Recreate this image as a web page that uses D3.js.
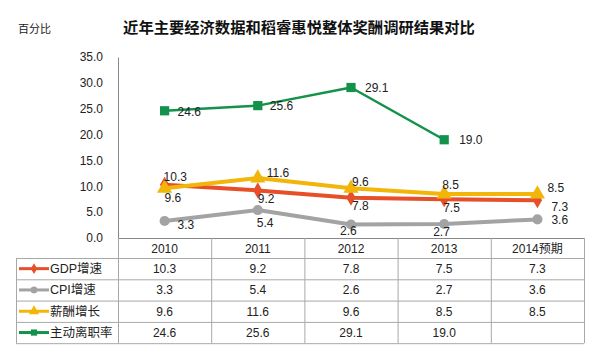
<!DOCTYPE html>
<html><head><meta charset="utf-8">
<script src="https://cdn.jsdelivr.net/npm/d3@7"></script>
<style>
html,body{margin:0;padding:0;background:#fff;}
svg{display:block;font-family:"Liberation Sans",Arial,"Noto Sans CJK SC",sans-serif;}
</style></head><body>
<svg id="c" width="600" height="353"></svg>
<script>
const title = "近年主要经济数据和稻睿惠悦整体奖酬调研结果对比";
const yUnit = "百分比";
const categories = ["2010","2011","2012","2013","2014预期"];
const yTicks = [0,5,10,15,20,25,30,35];
const seriesNames = ["GDP增速","CPI增速","薪酬增长","主动离职率"];
const gdp = [10.3, 9.2, 7.8, 7.5, 7.3];
const cpi = [3.3, 5.4, 2.6, 2.7, 3.6];
const salary = [9.6, 11.6, 9.6, 8.5, 8.5];
const turnover = [24.6, 25.6, 29.1, 19.0, null];

// styling (not data)
const colors = ["#e64f28","#a3a3a3","#f2b50a","#12924a"];
const widths = [4,4,4,2.5];
const shapes = [d3.symbolDiamond, d3.symbolCircle, d3.symbolTriangle, d3.symbolSquare];
const symSizes = [75, 80, 100, 85];
// label placement per series per point: [dx, dy] (offset of label start / vertical centre)
const labelPos = [
  [[-1,-8],[0,8],[1,8],[-1,8],[14,6]],
  [[13,4],[-1,13],[-11,6.5],[-11,8],[14,0]],
  [[0,9],[9,-5],[1,-7],[-2,-9],[10,-6]],
  [[13,1],[12,0],[14,0],[15,0],[0,0]]
];

const allSeries = [gdp, cpi, salary, turnover];
const svg = d3.select("#c");
const pL = 118, pR = 584, pT = 57, pB = 238;
const x = d3.scaleBand().domain(categories).range([pL, pR]);
const y = d3.scaleLinear().domain([0,35]).range([pB, pT]);
const cx = c => x(c) + x.bandwidth()/2;

// title
svg.append("text").attr("x", 299).attr("y", 33).attr("text-anchor","middle")
  .attr("font-family","'Noto Sans CJK SC',sans-serif").attr("font-weight","bold")
  .attr("font-size",15.3).attr("fill","#111").text(title);
svg.append("text").attr("x", 18).attr("y", 33)
  .attr("font-family","'Noto Sans CJK SC',sans-serif")
  .attr("font-size",11).attr("fill","#222").text(yUnit);

// y axis
const yAxis = d3.axisLeft(y).tickValues(yTicks).tickFormat(d3.format(".1f")).tickSize(0).tickPadding(15);
const ga = svg.append("g").attr("transform",`translate(${pL},0)`).call(yAxis);
ga.select(".domain").attr("stroke","#888").attr("stroke-width",1);
ga.selectAll("text").attr("font-size",12).attr("fill","#222")
  .attr("font-family","'Liberation Sans',Arial,sans-serif");

// table grid
const tbl = svg.append("g").attr("stroke","#a8a8a8").attr("stroke-width",1).attr("fill","none");
const rowH = 21.3, headerBottom = 258, tableLeft = 16;
const rowYs = d3.range(5).map(i => headerBottom + i*rowH);
tbl.append("line").attr("x1",pL).attr("x2",pR).attr("y1",pB+0.5).attr("y2",pB+0.5).attr("stroke","#888");
rowYs.forEach(ry => tbl.append("line").attr("x1",tableLeft).attr("x2",pR).attr("y1",ry+0.5).attr("y2",ry+0.5));
tbl.append("line").attr("x1",tableLeft+0.5).attr("x2",tableLeft+0.5).attr("y1",headerBottom).attr("y2",rowYs[4]);
categories.forEach(c => {
  tbl.append("line").attr("x1",x(c)+0.5).attr("x2",x(c)+0.5).attr("y1",pB).attr("y2",rowYs[4]);
});
tbl.append("line").attr("x1",pR+0.5).attr("x2",pR+0.5).attr("y1",pB).attr("y2",rowYs[4]);

// header text
svg.append("g").selectAll("text").data(categories).join("text")
  .attr("x", d => cx(d)).attr("y", pB + 14.5).attr("text-anchor","middle")
  .attr("font-size",12).attr("fill","#222").text(d => d);

// table rows
allSeries.forEach((vals, si) => {
  const ry = rowYs[si] + rowH/2;
  const g = svg.append("g");
  g.append("line").attr("x1",19).attr("x2",49).attr("y1",ry).attr("y2",ry)
    .attr("stroke",colors[si]).attr("stroke-width",3);
  g.append("path").attr("d", d3.symbol().type(shapes[si]).size(symSizes[si]*0.45)())
    .attr("transform",`translate(34,${ry})`).attr("fill",colors[si]);
  g.append("text").attr("x",50).attr("y",ry+4.5).attr("font-size",12.5).attr("fill","#222")
    .attr("font-family","'Liberation Sans','Noto Sans CJK SC',sans-serif").text(seriesNames[si]);
  g.selectAll("text.v").data(vals).join("text").attr("class","v")
    .attr("x",(d,i)=>cx(categories[i])).attr("y",ry+4.5).attr("text-anchor","middle")
    .attr("font-size",12).attr("fill","#222").text(d => d==null ? "" : d3.format(".1f")(d));
});

// lines
const order = [1,0,2,3];
order.forEach(si => {
  const vals = allSeries[si];
  const line = d3.line().defined(d => d != null).x((d,i)=>cx(categories[i])).y(d=>y(d));
  svg.append("path").datum(vals).attr("d", line).attr("fill","none")
    .attr("stroke",colors[si]).attr("stroke-width",widths[si]).attr("stroke-linejoin","round");
  svg.append("g").selectAll("path").data(vals.map((v,i)=>({v,i})).filter(d=>d.v!=null)).join("path")
    .attr("d", d3.symbol().type(shapes[si]).size(symSizes[si])())
    .attr("transform", d => `translate(${cx(categories[d.i])},${y(d.v)})`)
    .attr("fill",colors[si]);
});
// labels
allSeries.forEach((vals, si) => {
  svg.append("g").selectAll("text").data(vals.map((v,i)=>({v,i})).filter(d=>d.v!=null)).join("text")
    .attr("x", d => cx(categories[d.i]) + labelPos[si][d.i][0])
    .attr("y", d => y(d.v) + labelPos[si][d.i][1] + 4.3)
    .attr("font-size",12).attr("fill","#222")
    .text(d => d3.format(".1f")(d.v));
});
</script>
</body></html>
